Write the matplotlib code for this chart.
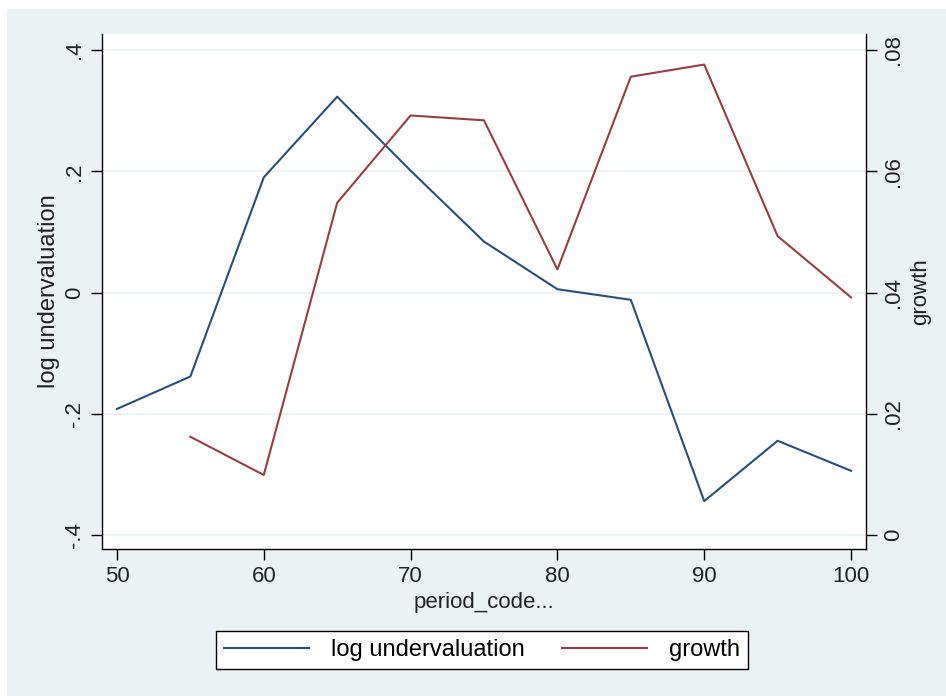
import matplotlib
matplotlib.use("Agg")
import matplotlib.pyplot as plt
from matplotlib.patches import Rectangle

# data
period = [50, 55, 60, 65, 70, 75, 80, 85, 90, 95, 100]
log_underval = [-0.192, -0.1385, 0.190, 0.323, 0.201, 0.084, 0.0055, -0.012, -0.344, -0.2445, -0.294]
growth_period = [55, 60, 65, 70, 75, 80, 85, 90, 95, 100]
growth = [0.0162, 0.0099, 0.0548, 0.0692, 0.0684, 0.0438, 0.0756, 0.0776, 0.0493, 0.0392]

left_ticks = [-0.4, -0.2, 0.0, 0.2, 0.4]
left_labels = ["-.4", "-.2", "0", ".2", ".4"]
right_ticks = [0.0, 0.02, 0.04, 0.06, 0.08]
right_labels = ["0", ".02", ".04", ".06", ".08"]
x_ticks = [50, 60, 70, 80, 90, 100]

BG = "#eaf2f3"
BLUE = "#274f7c"
RED = "#963e45"
FS = 17

plt.rcParams["font.family"] = ["Liberation Sans", "DejaVu Sans"]

W, H = 946, 696
fig = plt.figure(figsize=(W / 100, H / 100), dpi=100, facecolor="white")
# stata-ish light background with a thin white edge top/left
fig.patches.append(Rectangle((7 / W, 0), 1 - 7 / W, 1 - 9 / H, transform=fig.transFigure,
                             facecolor=BG, edgecolor="none", zorder=-10))

ax = fig.add_axes([102 / W, 1 - 549 / H, (866 - 102) / W, (549 - 34) / H])
ax.set_facecolor("white")
ax.set_xlim(48.98, 101.02)
ax.set_ylim(-0.423, 0.4264)
for y in left_ticks:
    ax.axhline(y, color=BG, lw=1.2, zorder=1)
ax.plot(period, log_underval, color=BLUE, lw=1.5, zorder=3, label="log undervaluation")

ax2 = ax.twinx()
ax2.set_ylim(-0.00231, 0.08264)
ax2.plot(growth_period, growth, color=RED, lw=1.5, zorder=3, label="growth")

for a in (ax, ax2):
    a.spines["top"].set_visible(False)
    for s in a.spines.values():
        s.set_linewidth(1.0)
ax.spines["right"].set_visible(False)
ax2.spines["left"].set_visible(False)
ax2.spines["bottom"].set_visible(False)

ax.set_xticks(x_ticks)
ax.set_xticklabels([str(v) for v in x_ticks], fontsize=FS - 1, color="#222222")
ax.set_yticks(left_ticks)
ax.set_yticklabels(left_labels, fontsize=FS - 1, rotation=90, va="center", color="#222222")
ax2.set_yticks(right_ticks)
ax2.set_yticklabels(right_labels, fontsize=FS - 1, rotation=90, va="center", color="#222222")
ax.tick_params(axis="both", length=8, width=1.0, pad=4)
ax2.tick_params(axis="y", length=8, width=1.0, pad=4)

ax.set_xlabel("period_code...", fontsize=FS - 1, color="#222222", labelpad=4)
ax.set_ylabel("log undervaluation", fontsize=FS, color="#222222", labelpad=3)
ax2.set_ylabel("growth", fontsize=FS - 1, color="#222222", rotation=90, labelpad=5)

h1, l1 = ax.get_legend_handles_labels()
h2, l2 = ax2.get_legend_handles_labels()
leg = fig.legend(h1 + h2, l1 + l2, loc="center", bbox_to_anchor=(482 / W, 1 - 650 / H),
                 ncol=2, fontsize=FS, frameon=True, fancybox=False, handlelength=3.6,
                 columnspacing=1.6, handletextpad=0.9, borderpad=0.35, framealpha=1)
leg.get_frame().set_facecolor("white")
leg.get_frame().set_edgecolor("black")
leg.get_frame().set_linewidth(1.0)

fig.savefig("out.png", dpi=100, facecolor="white")
